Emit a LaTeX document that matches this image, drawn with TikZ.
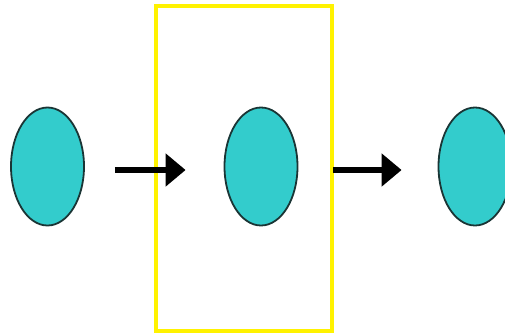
\documentclass[tikz,border=0pt]{standalone}
\usetikzlibrary{arrows.meta,shapes.geometric}
\definecolor{cellteal}{HTML}{33CCCC}
\definecolor{celledge}{HTML}{1A3535}
\begin{document}
\begin{tikzpicture}[x=1pt,y=-1pt,
  cell/.style={ellipse,draw=celledge,fill=cellteal,line width=1.8pt,minimum width=73pt,minimum height=118pt,inner sep=0pt},
  flow/.style={line width=6pt,-{Triangle[length=20pt,width=32pt]}},
  frame/.style={draw=yellow,line width=4.5pt,minimum width=176pt,minimum height=325pt,inner sep=0pt}]
\useasboundingbox(0,0)rectangle(505,333);
\node[frame](box)at(244,168.5){};
\node[cell](a)at(47.5,166.5){};\node[cell](b)at(261,166.5){};\node[cell](c)at(475,166.5){};
\draw[flow,shorten <=30pt,shorten >=38pt]([yshift=-3.5pt]a.east)--([yshift=-3.5pt]b.west);
\draw[flow,shorten <=35pt,shorten >=36pt]([yshift=-3.5pt]b.east)--([yshift=-3.5pt]c.west);
\end{tikzpicture}
\end{document}
